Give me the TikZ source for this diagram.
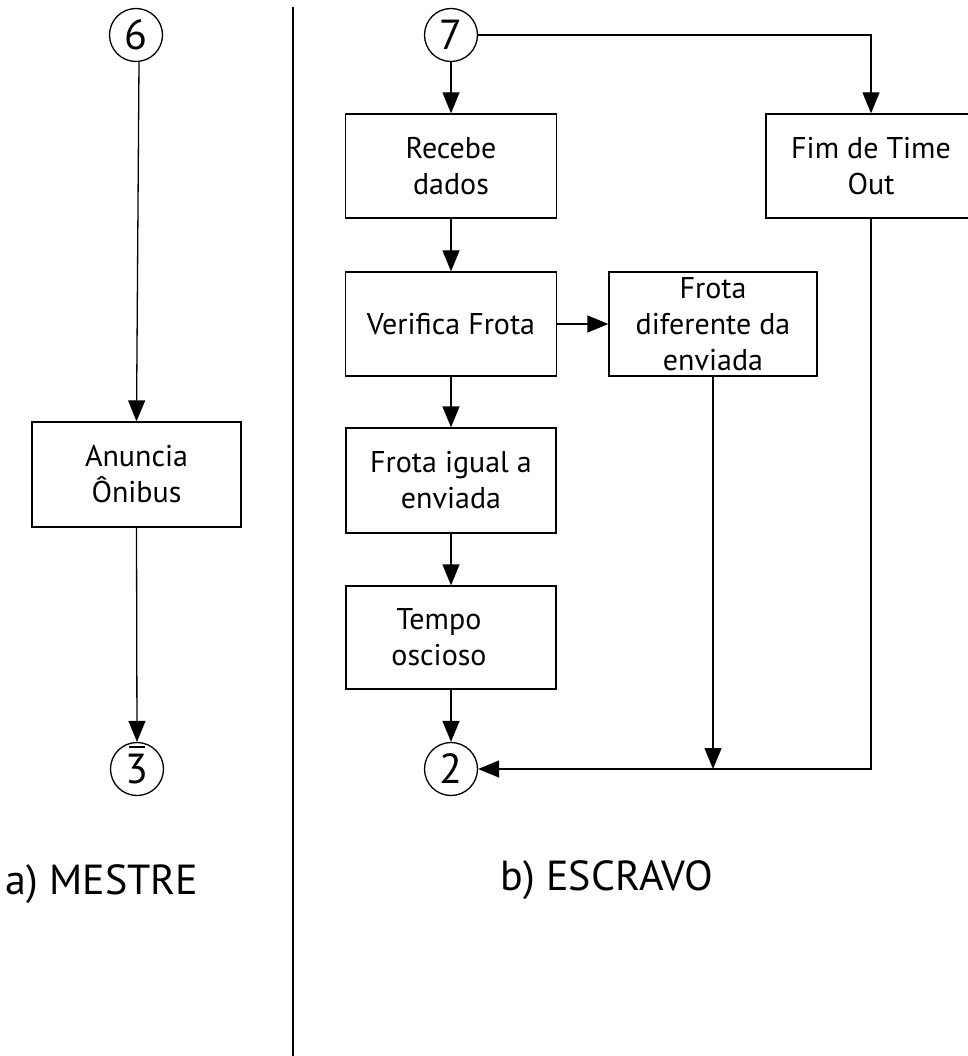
\documentclass[tikz,border=0pt]{standalone}
\usepackage{fontspec}
\setmainfont{PT Sans}
\usetikzlibrary{arrows.meta}
\begin{document}
\begin{tikzpicture}[x=1pt,y=-1pt,
  line width=1.3pt,
  box/.style={draw, minimum width=210pt, minimum height=104pt, align=center,
    inner sep=0pt, font=\fontsize{30}{36}\selectfont},
  conn/.style={draw, circle, minimum size=53pt, inner sep=0pt,
    font=\fontsize{42}{42}\selectfont},
  arr/.style={-{Triangle[length=21pt,width=17pt]}},
  caption/.style={anchor=base, inner sep=0pt, font=\fontsize{42}{42}\selectfont}]
\useasboundingbox (0,0) rectangle (967,1056);

% separator between the two columns
\draw (293,7) -- (293,1056);

% ---- a) master ----
\node[conn] (n6) at (136,35) {6};
\node[box, minimum width=209pt, minimum height=105pt] (anuncia) at (136.5,474.5) {Anuncia\\Ônibus};
\node[conn] (n3) at (137,769) {3};
\draw ([shift={(-8,-22)}]n3.center) -- ++(16,0);
\draw[arr] ([xshift=3pt]n6.south) -- (anuncia.north);
\draw[arr] (anuncia.south) -- (n3.north);
\node[caption] (capa) at (102,894) {a) MESTRE};

% ---- b) slave ----
\node[conn] (n7) at (451,35) {7};
\node[box, minimum width=211pt] (recebe) at (451,166) {Recebe\\dados};
\node[box] (fim) at (871,166) {Fim de Time\\Out};
\node[box, minimum width=211pt] (verifica) at (451,324) {Verifica Frota};
\node[box, minimum width=208pt] (dif) at (713,324) {Frota\\diferente da\\enviada};
\node[box, minimum height=105pt] (igual) at (451,480.5) {Frota igual a\\enviada};
\node[box, minimum height=103pt] (tempo) at (451,637.5) {\hspace*{-24pt}Tempo\\\hspace*{-24pt}oscioso};
\node[conn] (n2) at (451,769) {2};

\draw[arr] (n7.south) -- (recebe.north);
\draw[arr] (n7.east) -| (fim.north);
\draw[arr] (recebe.south) -- (verifica.north);
\draw[arr] (verifica.east) -- (dif.west);
\draw[arr] (verifica.south) -- (igual.north);
\draw[arr] (igual.south) -- (tempo.north);
\draw[arr] (tempo.south) -- (n2.north);
\draw[arr] (fim.south) |- (n2.east);
\draw[arr] (dif.south) -- (dif.south |- n2.east);

\node[caption] (capb) at (607,890) {b) ESCRAVO};
\end{tikzpicture}
\end{document}
